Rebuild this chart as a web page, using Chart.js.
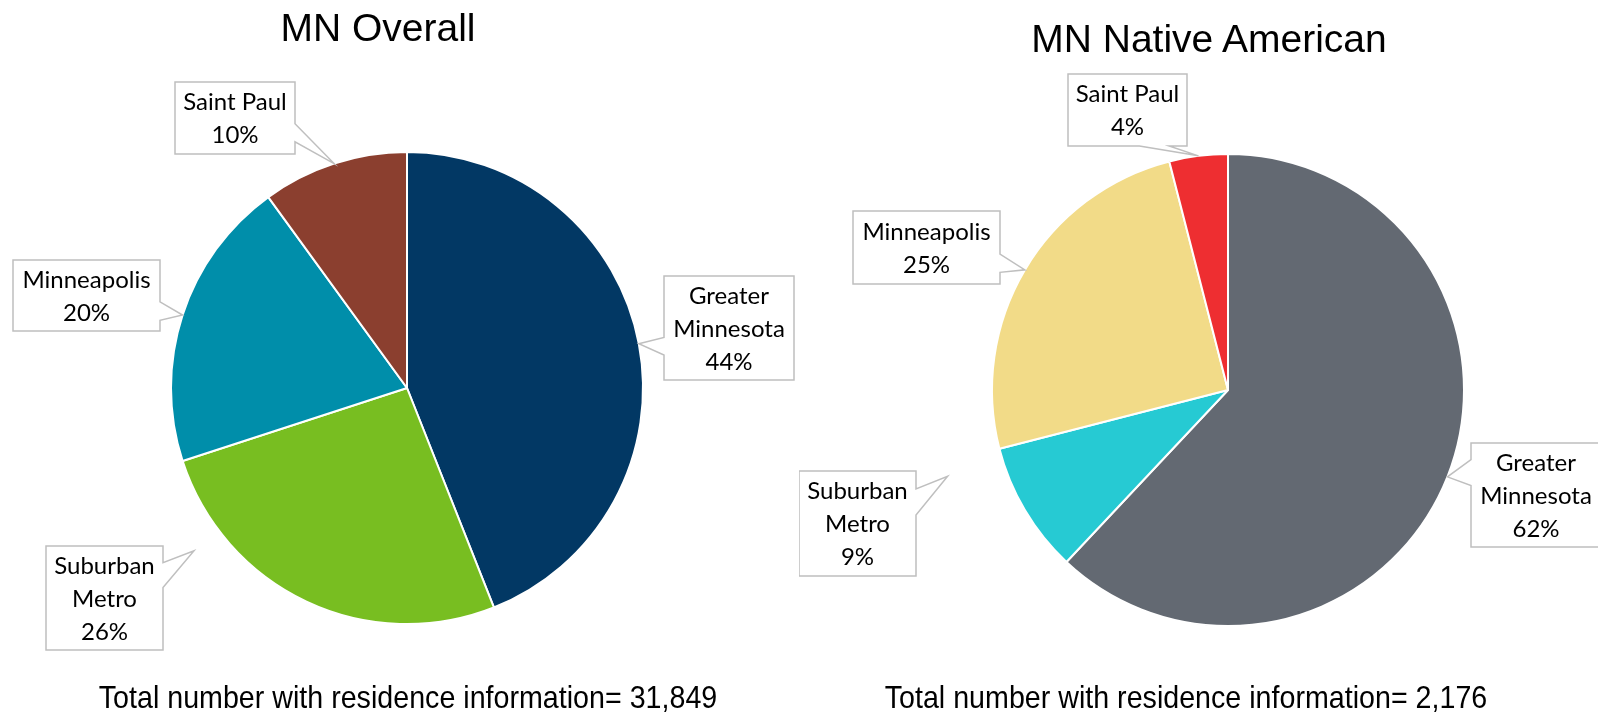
<!DOCTYPE html>
<html>
<head>
<meta charset="utf-8">
<script src="https://cdn.jsdelivr.net/npm/chart.js@4.4.0/dist/chart.umd.min.js"></script>
<style>
html,body{margin:0;padding:0;background:#fff;width:1598px;height:714px;overflow:hidden;}
.wrap{position:absolute;top:0;width:799px;height:714px;}
.title{position:absolute;font-family:"Liberation Sans",Arial,sans-serif;font-size:39px;line-height:39px;color:#000;white-space:nowrap;transform:translateX(-50%);}
.note{position:absolute;font-family:"Liberation Sans",Arial,sans-serif;font-size:32px;line-height:32px;color:#000;white-space:nowrap;transform:translateX(-50%) scaleX(0.895);}
</style>
</head>
<body>
<div class="wrap" style="left:0"><canvas id="c1" width="799" height="714"></canvas></div>
<div class="wrap" style="left:799px"><canvas id="c2" width="799" height="714"></canvas></div>
<div class="title" id="t1" style="left:378px;top:8px"></div>
<div class="title" id="t2" style="left:1209px;top:19px"></div>
<div class="note" id="n1" style="left:408px;top:681px"></div>
<div class="note" id="n2" style="left:1186px;top:681px"></div>
<script>
// ---- data ----
const categories = ["Greater Minnesota", "Suburban Metro", "Minneapolis", "Saint Paul"];
const overallValues = [44, 26, 20, 10];
const nativeValues = [62, 9, 25, 4];
const chartTitles = ["MN Overall", "MN Native American"];
const totalLabel = "Total number with residence information= ";
const totals = ["31,849", "2,176"];

// ---- styles ----
const overallColors = ["#023864", "#78BE21", "#008EAA", "#8B3F2F"];
const nativeColors = ["#636972", "#26CAD3", "#F2DB88", "#EE2E31"];
const labelLines = {
  "Greater Minnesota": ["Greater", "Minnesota"],
  "Suburban Metro": ["Suburban", "Metro"],
  "Minneapolis": ["Minneapolis"],
  "Saint Paul": ["Saint Paul"]
};

// callout layout: box relative to pie centre [dx, dy, w, h], pointer side and base fractions
const overallCallouts = [
  {box: [257, -112, 130, 104], side: "left", f: [0.59, 0.76]},
  {box: [-361, 158, 117, 104], side: "right", f: [0.16, 0.40], tipAngle: 232.6, tipR: 1.136},
  {box: [-394, -128, 147, 71], side: "right", f: [0.59, 0.85]},
  {box: [-232, -306, 120, 72], side: "right", f: [0.58, 0.83]}
];
const nativeCallouts = [
  {box: [243, 53, 130, 104], side: "left", f: [0.16, 0.41]},
  {box: [-429, 81, 117, 105], side: "right", f: [0.17, 0.42], tipAngle: 252.9, tipR: 1.243},
  {box: [-375, -179, 147, 73], side: "right", f: [0.59, 0.84]},
  {box: [-160, -316, 119, 72], side: "bottom", f: [0.60, 0.85]}
];

document.getElementById("t1").textContent = chartTitles[0];
document.getElementById("t2").textContent = chartTitles[1];
document.getElementById("n1").textContent = totalLabel + totals[0];
document.getElementById("n2").textContent = totalLabel + totals[1];

const calloutPlugin = {
  id: "callouts",
  afterDatasetsDraw(chart, args, opts) {
    const ctx = chart.ctx;
    const meta = chart.getDatasetMeta(0);
    const data = chart.data.datasets[0].data;
    const total = data.reduce((a, b) => a + b, 0);
    meta.data.forEach((arc, i) => {
      const L = opts.layout[i];
      const p = arc.getProps(["x", "y", "outerRadius", "startAngle", "endAngle"], true);
      let a = (p.startAngle + p.endAngle) / 2, rf = 1;
      if (L.tipAngle != null) { a = L.tipAngle * Math.PI / 180 - Math.PI / 2; rf = L.tipR; }
      const tx = p.x + Math.cos(a) * p.outerRadius * rf;
      const ty = p.y + Math.sin(a) * p.outerRadius * rf;
      const bx = p.x + L.box[0], by = p.y + L.box[1], bw = L.box[2], bh = L.box[3];
      ctx.save();
      ctx.beginPath();
      ctx.moveTo(bx, by);
      ctx.lineTo(bx + bw, by);
      if (L.side === "right") { ctx.lineTo(bx + bw, by + bh * L.f[0]); ctx.lineTo(tx, ty); ctx.lineTo(bx + bw, by + bh * L.f[1]); }
      ctx.lineTo(bx + bw, by + bh);
      if (L.side === "bottom") { ctx.lineTo(bx + bw * L.f[1], by + bh); ctx.lineTo(tx, ty); ctx.lineTo(bx + bw * L.f[0], by + bh); }
      ctx.lineTo(bx, by + bh);
      if (L.side === "left") { ctx.lineTo(bx, by + bh * L.f[1]); ctx.lineTo(tx, ty); ctx.lineTo(bx, by + bh * L.f[0]); }
      ctx.closePath();
      ctx.fillStyle = "#ffffff";
      ctx.fill();
      ctx.strokeStyle = "#BFBFBF";
      ctx.lineWidth = 1.5;
      ctx.stroke();
      const name = chart.data.labels[i];
      const lines = (labelLines[name] || [name]).concat([Math.round(data[i] / total * 100) + "%"]);
      ctx.fillStyle = "#000";
      ctx.font = "24px Lato, 'Open Sans', sans-serif";
      ctx.textAlign = "center";
      ctx.textBaseline = "middle";
      const lh = 33;
      lines.forEach((t, k) => {
        ctx.fillText(t, bx + bw / 2, by + bh / 2 + (k - (lines.length - 1) / 2) * lh + 1);
      });
      ctx.restore();
    });
  }
};

function makePie(id, values, colors, padding, callouts) {
  return new Chart(document.getElementById(id), {
    type: "pie",
    data: {
      labels: categories,
      datasets: [{data: values, backgroundColor: colors, borderColor: "#ffffff", borderWidth: 2}]
    },
    options: {
      responsive: false,
      animation: false,
      events: [],
      layout: {padding: padding},
      plugins: {legend: {display: false}, tooltip: {enabled: false}, title: {display: false}, callouts: {layout: callouts}}
    },
    plugins: [calloutPlugin]
  });
}

makePie("c1", overallValues, overallColors, {left: 170, top: 151, right: 155, bottom: 89}, overallCallouts);
makePie("c2", nativeValues, nativeColors, {left: 192, top: 153, right: 133, bottom: 87}, nativeCallouts);
</script>
</body>
</html>
